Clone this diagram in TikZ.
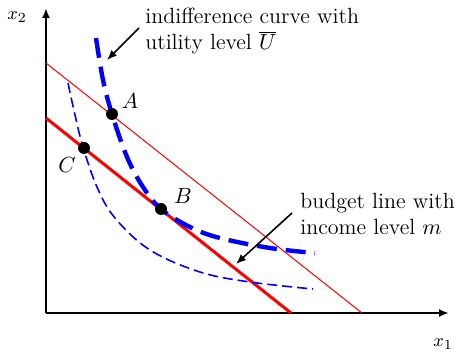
\documentclass[tikz,border=0pt]{standalone}
\usetikzlibrary{arrows.meta}
\begin{document}
\begin{tikzpicture}[x=0.5pt,y=-0.5pt,
  axis/.style={line width=1.2pt,-{Latex[length=5pt,width=4pt]}},
  pointer/.style={line width=0.8pt,-{Latex[length=5pt,width=4pt]}},
  dot/.style={circle,fill=black,inner sep=0pt,minimum size=6pt},
  lbl/.style={inner sep=0pt,font=\fontsize{11}{13}\selectfont},
  axlbl/.style={inner sep=0pt,font=\fontsize{9.5}{11}\selectfont},
  note/.style={align=left,anchor=north west,inner sep=0pt,font=\fontsize{11}{13}\selectfont}]
\useasboundingbox (0,0) rectangle (455,352);
% axes
\coordinate (O) at (46,313);
\coordinate (Ytop) at (46,8);
\coordinate (Xend) at (449,313);
\draw[axis] (O) -- (Ytop);
\draw[axis] (O) -- (Xend);
\node[axlbl] (x2) at (17,17) {$x_2$};
\node[axlbl] (x1) at (443,344) {$x_1$};
% budget lines
\coordinate (b1s) at (46,63); \coordinate (b1e) at (362,313);
\coordinate (b2s) at (46,118); \coordinate (b2e) at (291,313);
\draw[red,line width=0.5pt] (b1s) -- (b1e);
\draw[red,line width=1.5pt] (b2s) -- (b2e);
% indifference curves
\draw[blue,line width=2.2pt,dash pattern=on 10pt off 4.5pt]
  plot[smooth,tension=0.6] coordinates {(96,38) (103,80) (112,114) (127,157) (143,187) (161,209) (190,227) (220,238) (270,248) (315,253)};
\draw[blue,line width=0.8pt,dash pattern=on 5pt off 2.5pt]
  plot[smooth,tension=0.6] coordinates {(68,83) (75,115) (83,147) (97,187) (115,218) (150,250) (200,272) (250,282) (313,289)};
% points
\node[dot] (A) at (112,114) {};
\node[dot] (B) at (161,209) {};
\node[dot] (C) at (84,148) {};
\node[lbl] (Al) at (130,101) {$A$};
\node[lbl] (Bl) at (183,196) {$B$};
\node[lbl] (Cl) at (67,165) {$C$};
% annotations
\node[note] (n1) at (145,8) {indifference curve with\\utility level $\overline{U}$};
\node[note] (n2) at (300,193) {budget line with\\income level $m$};
\coordinate (t1) at (107,60);
\coordinate (t2) at (236,264);
\draw[pointer] (n1.west |- 0,28) ++(-6,0) -- (t1);
\draw[pointer] (n2.west |- 0,213) ++(-8,0) -- (t2);
\end{tikzpicture}
\end{document}
